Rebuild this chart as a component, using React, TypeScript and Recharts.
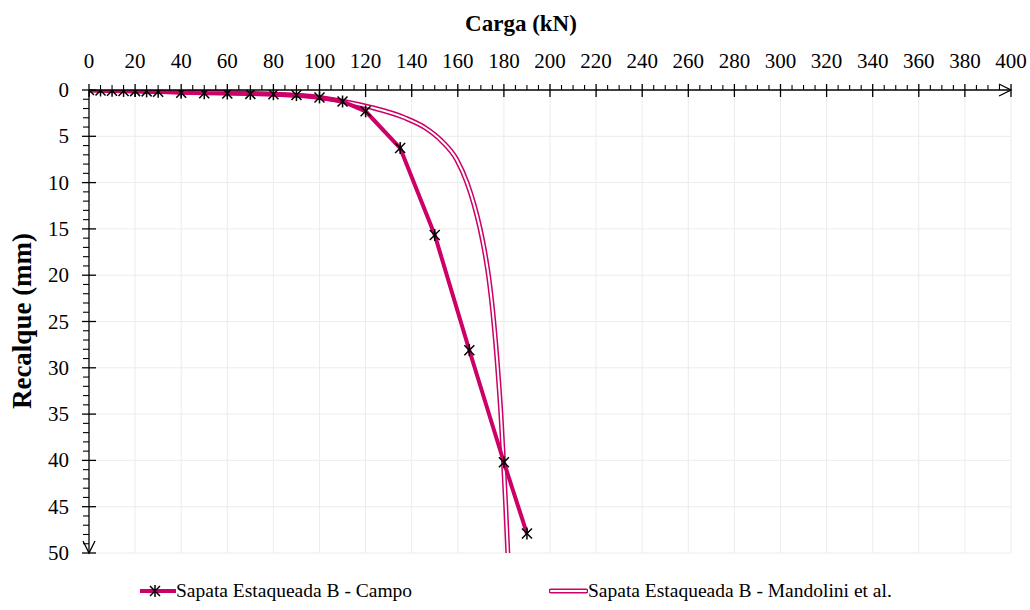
import React from 'react';
import { LineChart, Line, XAxis, YAxis, ReferenceLine } from 'recharts';

// Carga (kN) x Recalque (mm) - leituras do gráfico
const campoCarga = [0, 5, 10, 15, 20, 25, 30, 40, 50, 60, 70, 80, 90, 100, 110, 120, 135, 150, 165, 180, 190];
const campoRecalque = [0, 0.05, 0.08, 0.1, 0.12, 0.15, 0.18, 0.3, 0.35, 0.38, 0.42, 0.45, 0.55, 0.8, 1.24, 2.3, 6.27, 15.65, 28.1, 40.2, 47.9];

const mandoliniCarga = [0, 20, 40, 60, 80, 100, 110, 122, 137, 146, 153, 159.5, 164, 167.2, 169.7, 171.7, 173.3, 175.6, 177.3, 178.7, 179.8, 180.8, 181.7];
const mandoliniRecalque = [0, 0.1, 0.2, 0.3, 0.45, 0.8, 1.2, 1.85, 3.0, 4.1, 5.5, 7.5, 10, 12.5, 15, 17.5, 20, 25, 30, 35, 40, 45, 50];

const xMajorTicks = [0, 20, 40, 60, 80, 100, 120, 140, 160, 180, 200, 220, 240, 260, 280, 300, 320, 340, 360, 380, 400];
const yMajorTicks = [0, 5, 10, 15, 20, 25, 30, 35, 40, 45, 50];

const X_MAX = 400;
const Y_MAX = 50;
const xAllTicks = Array.from({ length: X_MAX / 5 + 1 }, (_, i) => i * 5);
const yAllTicks = Array.from({ length: Y_MAX + 1 }, (_, i) => i);

const campoData = campoCarga.map((x, i) => ({ x, y: campoRecalque[i] }));
const mandoliniData = mandoliniCarga.map((x, i) => ({ x, y: mandoliniRecalque[i] }));

const FONT = '"Liberation Serif", "Times New Roman", serif';
const PINK = '#CC0066';
const GRID = '#ececec';

const XTick = (props: any) => {
  const { x, y, payload } = props;
  const v = payload.value;
  const major = xMajorTicks.includes(v);
  return (
    <g>
      {major ? (
        <line x1={x} x2={x} y1={y - 6} y2={y + 7} stroke="#000" strokeWidth={1.3} />
      ) : (
        <line x1={x} x2={x} y1={y - 5} y2={y} stroke="#000" strokeWidth={1.1} />
      )}
      {major && (
        <text x={x} y={y - 22} textAnchor="middle" fontFamily={FONT} fontSize={21} fill="#000">
          {v}
        </text>
      )}
      {v === X_MAX && (
        <polyline points={`${x - 12},${y - 6} ${x},${y} ${x - 12},${y + 6}`} fill="none" stroke="#000" strokeWidth={1.3} />
      )}
    </g>
  );
};

const YTick = (props: any) => {
  const { x, y, payload } = props;
  const v = payload.value;
  const major = yMajorTicks.includes(v);
  return (
    <g>
      {major ? (
        <line x1={x - 7} x2={x + 7} y1={y} y2={y} stroke="#000" strokeWidth={1.3} />
      ) : (
        <line x1={x - 6} x2={x} y1={y} y2={y} stroke="#000" strokeWidth={1.1} />
      )}
      {major && (
        <text x={x - 20} y={y + 7} textAnchor="end" fontFamily={FONT} fontSize={21} fill="#000">
          {v}
        </text>
      )}
      {v === Y_MAX && (
        <polyline points={`${x - 6},${y - 12} ${x},${y} ${x + 6},${y - 12}`} fill="none" stroke="#000" strokeWidth={1.3} />
      )}
    </g>
  );
};

const StarDot = (props: any) => {
  const { cx, cy } = props;
  if (cx == null || cy == null) return null;
  return (
    <g stroke="#000" strokeWidth={1.5}>
      <line x1={cx - 5} y1={cy - 5} x2={cx + 5} y2={cy + 5} />
      <line x1={cx - 5} y1={cy + 5} x2={cx + 5} y2={cy - 5} />
      <line x1={cx} y1={cy - 6} x2={cx} y2={cy + 6} />
    </g>
  );
};

const App: React.FC = () => {
  return (
    <div style={{ position: 'absolute', left: 0, top: 0, width: 1030, height: 610, background: '#fff', fontFamily: FONT }}>
      <LineChart width={1030} height={610} margin={{ top: 89, right: 19, bottom: 57, left: 88 }}>
        <XAxis
          xAxisId={0}
          type="number"
          dataKey="x"
          orientation="top"
          domain={[0, X_MAX]}
          ticks={xAllTicks}
          interval={0}
          height={1}
          tickSize={0}
          tickMargin={0}
          tickLine={false}
          tick={<XTick />}
          axisLine={{ stroke: '#000', strokeWidth: 1.3 }}
          allowDataOverflow
        />
        <YAxis
          yAxisId={0}
          type="number"
          dataKey="y"
          reversed
          domain={[0, Y_MAX]}
          ticks={yAllTicks}
          interval={0}
          width={1}
          tickSize={0}
          tickMargin={0}
          tickLine={false}
          tick={<YTick />}
          axisLine={{ stroke: '#000', strokeWidth: 1.3 }}
          allowDataOverflow
        />

        {/* grade */}
        {xMajorTicks.slice(1).map((v) => (
          <ReferenceLine key={`gx-${v}`} x={v} stroke={GRID} strokeWidth={1} />
        ))}
        {yMajorTicks.slice(1).map((v) => (
          <ReferenceLine key={`gy-${v}`} y={v} stroke={GRID} strokeWidth={1} />
        ))}

        {/* Mandolini et al. - linha dupla */}
        <Line
          data={mandoliniData}
          dataKey="y"
          type="monotone"
          stroke={PINK}
          strokeWidth={5}
          dot={false}
          activeDot={false}
          isAnimationActive={false}
          legendType="none"
        />
        <Line
          data={mandoliniData}
          dataKey="y"
          type="monotone"
          stroke="#fff"
          strokeWidth={2}
          dot={false}
          activeDot={false}
          isAnimationActive={false}
          legendType="none"
        />

        {/* Campo */}
        <Line
          data={campoData}
          dataKey="y"
          type="linear"
          stroke={PINK}
          strokeWidth={4}
          dot={(p: any) => <StarDot key={`d-${p.index}`} {...p} />}
          activeDot={false}
          isAnimationActive={false}
        />
      </LineChart>

      {/* títulos dos eixos */}
      <div
        style={{
          position: 'absolute',
          left: 521,
          top: 24,
          transform: 'translate(-50%, -50%)',
          fontFamily: FONT,
          fontWeight: 'bold',
          fontSize: 23,
          whiteSpace: 'nowrap',
        }}
      >
        Carga (kN)
      </div>
      <div
        style={{
          position: 'absolute',
          left: 22,
          top: 321,
          transform: 'translate(-50%, -50%) rotate(-90deg)',
          fontFamily: FONT,
          fontWeight: 'bold',
          fontSize: 27,
          whiteSpace: 'nowrap',
        }}
      >
        Recalque (mm)
      </div>

      {/* legenda */}
      <div style={{ position: 'absolute', left: 140, top: 578, display: 'flex', alignItems: 'center' }}>
        <svg width={36} height={26}>
          <line x1={0} x2={36} y1={13} y2={13} stroke={PINK} strokeWidth={4} />
          <StarDot cx={15} cy={13} />
        </svg>
        <span style={{ whiteSpace: 'nowrap', fontFamily: FONT, fontSize: 19.5 }}>Sapata Estaqueada B - Campo</span>
      </div>
      <div style={{ position: 'absolute', left: 549, top: 578, display: 'flex', alignItems: 'center' }}>
        <svg width={39} height={26}>
          <line x1={2} x2={37} y1={13} y2={13} stroke={PINK} strokeWidth={5} strokeLinecap="round" />
          <line x1={2} x2={37} y1={13} y2={13} stroke="#fff" strokeWidth={2} strokeLinecap="round" />
        </svg>
        <span style={{ whiteSpace: 'nowrap', fontFamily: FONT, fontSize: 19.5 }}>Sapata Estaqueada B - Mandolini et al.</span>
      </div>
    </div>
  );
};

export default App;
